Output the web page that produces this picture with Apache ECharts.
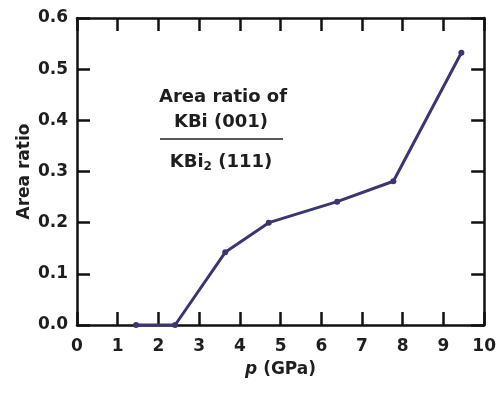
<!DOCTYPE html>
<html>
<head>
<meta charset="utf-8">
<script src="https://cdn.jsdelivr.net/npm/echarts@6/dist/echarts.min.js"></script>
<style>
  html, body { margin: 0; padding: 0; background: #fff; }
  #chart { width: 499px; height: 394px; }
</style>
</head>
<body>
<div id="chart"></div>
<script>
// Pressure (GPa) and the KBi(001)/KBi2(111) area ratio
const pressure = [1.45, 2.41, 3.64, 4.71, 6.39, 7.77, 9.44];
const areaRatio = [0.0, 0.0, 0.142, 0.200, 0.241, 0.281, 0.532];
const xTicks = [0, 1, 2, 3, 4, 5, 6, 7, 8, 9, 10];
const yTicks = [0.0, 0.1, 0.2, 0.3, 0.4, 0.5, 0.6];

const FONT = 'DejaVu Sans, Arial, sans-serif';
const TEXT = '#1e1e1e';
const lineColor = '#3b3573';

const chart = echarts.init(document.getElementById('chart'));

const frameLine = { show: true, onZero: false, lineStyle: { color: '#111', width: 2.5 } };
const innerTick = { show: true, inside: true, length: 13, lineStyle: { color: '#111', width: 2.5 } };

chart.setOption({
  animation: false,
  grid: { left: 77, top: 18, right: 14, bottom: 69 },
  xAxis: [{
    type: 'value', min: xTicks[0], max: xTicks[xTicks.length - 1], interval: 1,
    axisLine: frameLine, axisTick: innerTick, splitLine: { show: false },
    axisLabel: { color: TEXT, fontFamily: FONT, fontWeight: 'bold', fontSize: 17, margin: 13 },
    name: '{i|p} (GPa)', nameLocation: 'middle', nameGap: 36, nameMoveOverlap: false,
    nameTextStyle: {
      color: TEXT, fontFamily: FONT, fontWeight: 'bold', fontSize: 17,
      rich: { i: { fontStyle: 'italic', fontWeight: 'bold', fontFamily: FONT, fontSize: 17, color: TEXT } }
    }
  }, {
    type: 'value', position: 'top', min: 0, max: 10, interval: 1,
    axisLine: frameLine, axisTick: innerTick, axisLabel: { show: false }, splitLine: { show: false }
  }],
  yAxis: [{
    type: 'value', min: yTicks[0], max: yTicks[yTicks.length - 1], interval: 0.1,
    axisLine: frameLine, axisTick: innerTick, splitLine: { show: false },
    axisLabel: {
      color: TEXT, fontFamily: FONT, fontWeight: 'bold', fontSize: 17, margin: 9,
      formatter: v => v.toFixed(1)
    },
    name: 'Area ratio', nameLocation: 'middle', nameGap: 44, nameMoveOverlap: false,
    nameTextStyle: { color: TEXT, fontFamily: FONT, fontWeight: 'bold', fontSize: 17 }
  }, {
    type: 'value', position: 'right', min: 0, max: 0.6, interval: 0.1,
    axisLine: frameLine, axisTick: innerTick, axisLabel: { show: false }, splitLine: { show: false }
  }],
  series: [{
    type: 'line',
    data: pressure.map((p, i) => [p, areaRatio[i]]),
    lineStyle: { color: lineColor, width: 3 },
    itemStyle: { color: lineColor },
    symbol: 'circle', symbolSize: 6,
    z: 5
  }],
  graphic: [
    {
      type: 'text', style: {
        text: 'Area ratio of', x: 223, y: 97, align: 'center', verticalAlign: 'middle',
        fontFamily: FONT, fontWeight: 'bold', fontSize: 18, fill: TEXT
      }
    },
    {
      type: 'text', style: {
        text: 'KBi (001)', x: 221, y: 122, align: 'center', verticalAlign: 'middle',
        fontFamily: FONT, fontWeight: 'bold', fontSize: 18, fill: TEXT
      }
    },
    {
      type: 'line', shape: { x1: 160, y1: 139, x2: 283, y2: 139 },
      style: { stroke: '#222', lineWidth: 1.5 }
    },
    {
      type: 'text', style: {
        text: 'KBi{s|2} (111)', x: 221, y: 162, align: 'center', verticalAlign: 'middle',
        fontFamily: FONT, fontWeight: 'bold', fontSize: 18, fill: TEXT,
        rich: { s: { fontFamily: FONT, fontWeight: 'bold', fontSize: 12, fill: TEXT, padding: [10, 0, 0, 0] } }
      }
    }
  ]
});
</script>
</body>
</html>
